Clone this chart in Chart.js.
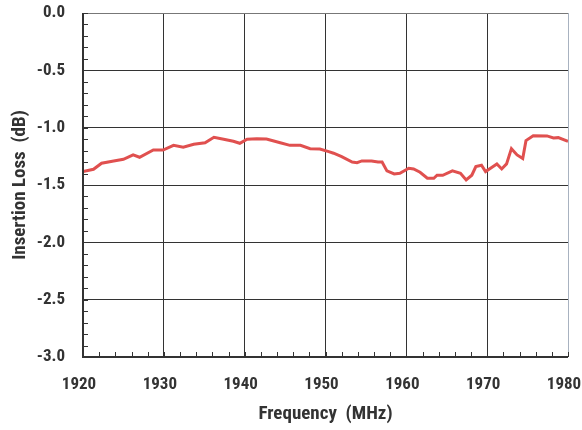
<!DOCTYPE html>
<html>
<head>
<meta charset="utf-8">
<script src="https://cdn.jsdelivr.net/npm/chart.js@4/dist/chart.umd.min.js"></script>
<style>
html,body{margin:0;padding:0;background:#fff;}
#wrap{width:582px;height:430px;position:relative;}
</style>
</head>
<body>
<div id="wrap"><canvas id="c" width="582" height="430"></canvas></div>
<script>
const freqMHz = [1920,1921.3,1922.3,1923.8,1925,1926.2,1927,1928.7,1929.9,1931.2,1932.4,1933.7,1935.1,1936.2,1937.4,1938.6,1939.4,1940.3,1941.5,1942.7,1944.4,1945.6,1946.9,1948.1,1949.3,1950.4,1951,1952,1953.3,1953.9,1954.5,1955.7,1956.5,1957.0,1957.6,1958.5,1959.2,1960.3,1960.9,1961.7,1962.6,1963.4,1963.8,1964.5,1965.7,1966.7,1967.4,1968.1,1968.6,1969.3,1969.8,1970.6,1971.2,1971.8,1972.4,1973.0,1973.7,1974.4,1974.8,1975.7,1977.4,1978.2,1978.8,1980];
const lossDB = [-1.382,-1.363,-1.31,-1.29,-1.276,-1.238,-1.258,-1.195,-1.195,-1.154,-1.171,-1.145,-1.131,-1.084,-1.101,-1.119,-1.136,-1.101,-1.096,-1.099,-1.131,-1.154,-1.154,-1.183,-1.186,-1.209,-1.223,-1.253,-1.30,-1.305,-1.29,-1.29,-1.30,-1.30,-1.377,-1.404,-1.398,-1.354,-1.36,-1.389,-1.441,-1.441,-1.415,-1.415,-1.377,-1.398,-1.456,-1.415,-1.34,-1.328,-1.383,-1.345,-1.316,-1.36,-1.316,-1.183,-1.238,-1.27,-1.113,-1.07,-1.072,-1.09,-1.087,-1.119];
const xTicks = [1920,1930,1940,1950,1960,1970,1980];
const yTicks = [0.0,-0.5,-1.0,-1.5,-2.0,-2.5,-3.0];
const xTitle = 'Frequency  (MHz)';
const yTitle = 'Insertion Loss  (dB)';

const FONT = "'Roboto Condensed','DejaVu Sans Condensed',sans-serif";

const minorTicks = {
  id:'minorTicks',
  afterDatasetsDraw(chart){
    const ctx = chart.ctx, xs = chart.scales.x, ys = chart.scales.y;
    const a = chart.chartArea;
    ctx.save();
    ctx.strokeStyle = '#333';
    ctx.lineWidth = 1;
    ctx.beginPath();
    for (let v = xs.min; v <= xs.max + 1e-9; v += 2) {
      const px = Math.round(xs.getPixelForValue(v)) + 0.5;
      ctx.moveTo(px, a.bottom); ctx.lineTo(px, a.bottom - 5);
    }
    for (let v = ys.min; v <= ys.max + 1e-9; v += 0.1) {
      const py = Math.round(ys.getPixelForValue(v)) + 0.5;
      ctx.moveTo(a.left, py); ctx.lineTo(a.left + 5, py);
    }
    ctx.stroke();
    ctx.strokeStyle = '#333';
    ctx.lineWidth = 2;
    ctx.beginPath();
    ctx.moveTo(a.left, a.top); ctx.lineTo(a.left, a.bottom); ctx.lineTo(a.right, a.bottom);
    ctx.stroke();
    ctx.restore();
  }
};

new Chart(document.getElementById('c'), {
  type:'line',
  data:{ datasets:[{ data: freqMHz.map((f,i)=>({x:f,y:lossDB[i]})), borderColor:'#e0504f', borderWidth:3, pointRadius:0, tension:0, fill:false }]},
  options:{
    responsive:false, animation:false, devicePixelRatio:1,
    layout:{ padding:{ left:0, right:14, top:13, bottom:0 } },
    plugins:{ legend:{display:false}, tooltip:{enabled:false} },
    scales:{
      x:{
        type:'linear', min:1920, max:1980,
        afterBuildTicks(s){ s.ticks = xTicks.map(v=>({value:v})); },
        afterFit(s){ s.height = 73; s.paddingLeft = 0; s.paddingRight = 0; },
        grid:{ color:(c)=> c.tick && c.tick.value===1980 ? '#a8b2c0' : '#333', lineWidth:1, drawTicks:false },
        border:{ display:false },
        ticks:{ color:'#333', padding:18, labelOffset:-4, maxRotation:0, font:{ family:FONT, size:17, weight:'bold' }, callback:(v)=>String(v) },
        title:{ display:true, text:xTitle, color:'#333', font:{ family:FONT, size:19, weight:'bold' }, padding:{top:0,bottom:4} }
      },
      y:{
        type:'linear', min:-3, max:0,
        afterBuildTicks(s){ s.ticks = yTicks.map(v=>({value:v})); },
        afterFit(s){ s.width = 83; s.paddingTop = 0; s.paddingBottom = 0; },
        grid:{ color:(c)=> c.tick && c.tick.value===0 ? '#777' : '#333', lineWidth:1, drawTicks:false },
        border:{ display:false },
        ticks:{ color:'#333', padding:18, font:{ family:FONT, size:17, weight:'bold' }, callback:(v)=>Number(v).toFixed(1) },
        title:{ display:true, text:yTitle, color:'#333', font:{ family:FONT, size:19, weight:'bold' }, padding:{top:9,bottom:0} }
      }
    }
  },
  plugins:[minorTicks]
});
</script>
</body>
</html>
